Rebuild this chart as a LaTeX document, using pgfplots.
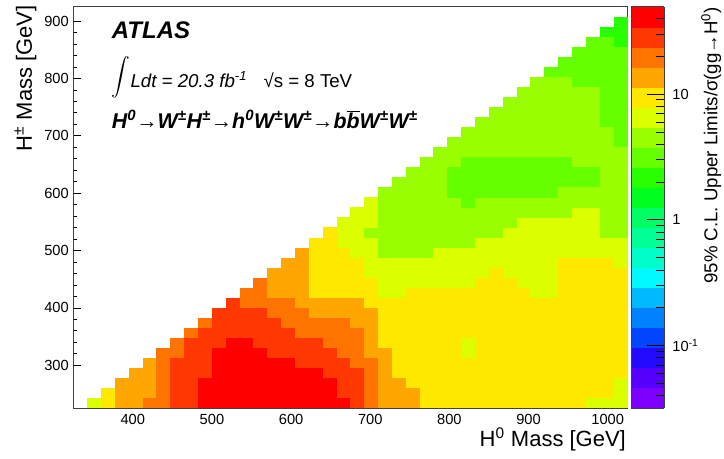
\documentclass[border=0pt]{standalone}
\usepackage{pgfplots}
\pgfplotsset{compat=1.18}
\usepackage{pgfplotstable}
\usepackage{graphicx}
\usepackage{fontspec}
\setmainfont{Liberation Sans}

\pgfdeclareplotmark{cell}{%
  \pgfpathrectangle{\pgfqpoint{-5.25pt}{-3.82pt}}{\pgfqpoint{10.5pt}{7.64pt}}%
  \pgfusepathqfill}

% i = H0 mass bin (17.5 GeV bins from 325), j = H+- mass bin (17.5 GeV bins from 225), v = limit / sigma
\pgfplotstableread[row sep=\\]{
i j v\\
1 0 6.5\\2 0 9.5\\3 0 14\\4 0 14\\5 0 20\\6 0 20\\7 0 28\\8 0 28\\9 0 41\\10 0 41\\11 0 41\\12 0 41\\13 0 41\\14 0 41\\15 0 41\\16 0 41\\17 0 41\\18 0 41\\19 0 41\\20 0 28\\21 0 20\\22 0 14\\23 0 14\\24 0 14\\25 0 9.5\\26 0 9.5\\27 0 9.5\\28 0 9.5\\29 0 9.5\\30 0 9.5\\31 0 9.5\\32 0 9.5\\33 0 9.5\\34 0 9.5\\35 0 9.5\\36 0 9.5\\37 0 6.5\\38 0 6.5\\39 0 6.5\\
2 1 9.5\\3 1 14\\4 1 14\\5 1 14\\6 1 20\\7 1 28\\8 1 28\\9 1 41\\10 1 41\\11 1 41\\12 1 41\\13 1 41\\14 1 41\\15 1 41\\16 1 41\\17 1 41\\18 1 41\\19 1 28\\20 1 28\\21 1 20\\22 1 14\\23 1 14\\24 1 14\\25 1 9.5\\26 1 9.5\\27 1 9.5\\28 1 9.5\\29 1 9.5\\30 1 9.5\\31 1 9.5\\32 1 9.5\\33 1 9.5\\34 1 9.5\\35 1 9.5\\36 1 9.5\\37 1 9.5\\38 1 9.5\\39 1 6.5\\
3 2 14\\4 2 14\\5 2 14\\6 2 20\\7 2 28\\8 2 28\\9 2 41\\10 2 41\\11 2 41\\12 2 41\\13 2 41\\14 2 41\\15 2 41\\16 2 41\\17 2 41\\18 2 41\\19 2 28\\20 2 28\\21 2 20\\22 2 14\\23 2 14\\24 2 9.5\\25 2 9.5\\26 2 9.5\\27 2 9.5\\28 2 9.5\\29 2 9.5\\30 2 9.5\\31 2 9.5\\32 2 9.5\\33 2 9.5\\34 2 9.5\\35 2 9.5\\36 2 9.5\\37 2 9.5\\38 2 9.5\\39 2 6.5\\
4 3 14\\5 3 14\\6 3 20\\7 3 28\\8 3 28\\9 3 28\\10 3 41\\11 3 41\\12 3 41\\13 3 41\\14 3 41\\15 3 41\\16 3 41\\17 3 41\\18 3 28\\19 3 28\\20 3 28\\21 3 20\\22 3 14\\23 3 9.5\\24 3 9.5\\25 3 9.5\\26 3 9.5\\27 3 9.5\\28 3 9.5\\29 3 9.5\\30 3 9.5\\31 3 9.5\\32 3 9.5\\33 3 9.5\\34 3 9.5\\35 3 9.5\\36 3 9.5\\37 3 9.5\\38 3 9.5\\39 3 9.5\\
5 4 14\\6 4 20\\7 4 28\\8 4 28\\9 4 28\\10 4 41\\11 4 41\\12 4 41\\13 4 41\\14 4 41\\15 4 41\\16 4 28\\17 4 28\\18 4 28\\19 4 28\\20 4 20\\21 4 20\\22 4 14\\23 4 9.5\\24 4 9.5\\25 4 9.5\\26 4 9.5\\27 4 9.5\\28 4 9.5\\29 4 9.5\\30 4 9.5\\31 4 9.5\\32 4 9.5\\33 4 9.5\\34 4 9.5\\35 4 9.5\\36 4 9.5\\37 4 9.5\\38 4 9.5\\39 4 9.5\\
6 5 20\\7 5 20\\8 5 28\\9 5 28\\10 5 41\\11 5 41\\12 5 41\\13 5 41\\14 5 28\\15 5 28\\16 5 28\\17 5 28\\18 5 28\\19 5 20\\20 5 20\\21 5 14\\22 5 14\\23 5 9.5\\24 5 9.5\\25 5 9.5\\26 5 9.5\\27 5 9.5\\28 5 6.5\\29 5 9.5\\30 5 9.5\\31 5 9.5\\32 5 9.5\\33 5 9.5\\34 5 9.5\\35 5 9.5\\36 5 9.5\\37 5 9.5\\38 5 9.5\\39 5 9.5\\
7 6 20\\8 6 28\\9 6 28\\10 6 28\\11 6 41\\12 6 41\\13 6 28\\14 6 28\\15 6 28\\16 6 28\\17 6 28\\18 6 20\\19 6 20\\20 6 20\\21 6 14\\22 6 9.5\\23 6 9.5\\24 6 9.5\\25 6 9.5\\26 6 9.5\\27 6 9.5\\28 6 6.5\\29 6 9.5\\30 6 9.5\\31 6 9.5\\32 6 9.5\\33 6 9.5\\34 6 9.5\\35 6 9.5\\36 6 9.5\\37 6 9.5\\38 6 9.5\\39 6 9.5\\
8 7 20\\9 7 28\\10 7 28\\11 7 28\\12 7 28\\13 7 28\\14 7 28\\15 7 28\\16 7 20\\17 7 20\\18 7 20\\19 7 20\\20 7 20\\21 7 14\\22 7 9.5\\23 7 9.5\\24 7 9.5\\25 7 9.5\\26 7 9.5\\27 7 9.5\\28 7 9.5\\29 7 9.5\\30 7 9.5\\31 7 9.5\\32 7 9.5\\33 7 9.5\\34 7 9.5\\35 7 9.5\\36 7 9.5\\37 7 9.5\\38 7 9.5\\39 7 9.5\\
9 8 20\\10 8 28\\11 8 28\\12 8 28\\13 8 28\\14 8 28\\15 8 20\\16 8 20\\17 8 20\\18 8 20\\19 8 20\\20 8 14\\21 8 14\\22 8 9.5\\23 8 9.5\\24 8 9.5\\25 8 9.5\\26 8 9.5\\27 8 9.5\\28 8 9.5\\29 8 9.5\\30 8 9.5\\31 8 9.5\\32 8 9.5\\33 8 9.5\\34 8 9.5\\35 8 9.5\\36 8 9.5\\37 8 9.5\\38 8 9.5\\39 8 9.5\\
10 9 28\\11 9 28\\12 9 28\\13 9 28\\14 9 20\\15 9 20\\16 9 20\\17 9 14\\18 9 14\\19 9 14\\20 9 14\\21 9 14\\22 9 9.5\\23 9 9.5\\24 9 9.5\\25 9 9.5\\26 9 9.5\\27 9 9.5\\28 9 9.5\\29 9 9.5\\30 9 9.5\\31 9 9.5\\32 9 9.5\\33 9 9.5\\34 9 9.5\\35 9 9.5\\36 9 9.5\\37 9 9.5\\38 9 9.5\\39 9 9.5\\
11 10 28\\12 10 20\\13 10 20\\14 10 20\\15 10 20\\16 10 14\\17 10 14\\18 10 14\\19 10 14\\20 10 14\\21 10 9.5\\22 10 9.5\\23 10 9.5\\24 10 9.5\\25 10 9.5\\26 10 9.5\\27 10 9.5\\28 10 9.5\\29 10 9.5\\30 10 9.5\\31 10 9.5\\32 10 9.5\\33 10 9.5\\34 10 9.5\\35 10 9.5\\36 10 9.5\\37 10 9.5\\38 10 9.5\\39 10 9.5\\
12 11 20\\13 11 20\\14 11 14\\15 11 14\\16 11 14\\17 11 9.5\\18 11 9.5\\19 11 9.5\\20 11 9.5\\21 11 9.5\\22 11 6.5\\23 11 6.5\\24 11 9.5\\25 11 9.5\\26 11 9.5\\27 11 9.5\\28 11 9.5\\29 11 9.5\\30 11 9.5\\31 11 9.5\\32 11 9.5\\33 11 6.5\\34 11 6.5\\35 11 9.5\\36 11 9.5\\37 11 9.5\\38 11 9.5\\39 11 9.5\\
13 12 20\\14 12 14\\15 12 14\\16 12 14\\17 12 9.5\\18 12 9.5\\19 12 9.5\\20 12 9.5\\21 12 9.5\\22 12 6.5\\23 12 6.5\\24 12 6.5\\25 12 6.5\\26 12 6.5\\27 12 6.5\\28 12 6.5\\29 12 9.5\\30 12 9.5\\31 12 9.5\\32 12 6.5\\33 12 6.5\\34 12 6.5\\35 12 9.5\\36 12 9.5\\37 12 9.5\\38 12 9.5\\39 12 9.5\\
14 13 14\\15 13 14\\16 13 14\\17 13 9.5\\18 13 9.5\\19 13 9.5\\20 13 9.5\\21 13 6.5\\22 13 6.5\\23 13 6.5\\24 13 6.5\\25 13 6.5\\26 13 6.5\\27 13 6.5\\28 13 6.5\\29 13 6.5\\30 13 9.5\\31 13 6.5\\32 13 6.5\\33 13 6.5\\34 13 6.5\\35 13 9.5\\36 13 9.5\\37 13 9.5\\38 13 9.5\\39 13 9.5\\
15 14 14\\16 14 14\\17 14 9.5\\18 14 9.5\\19 14 9.5\\20 14 9.5\\21 14 6.5\\22 14 6.5\\23 14 6.5\\24 14 6.5\\25 14 6.5\\26 14 6.5\\27 14 6.5\\28 14 6.5\\29 14 6.5\\30 14 6.5\\31 14 6.5\\32 14 6.5\\33 14 6.5\\34 14 6.5\\35 14 9.5\\36 14 9.5\\37 14 9.5\\38 14 9.5\\39 14 6.5\\
16 15 14\\17 15 9.5\\18 15 9.5\\19 15 9.5\\20 15 6.5\\21 15 6.5\\22 15 4.5\\23 15 4.5\\24 15 4.5\\25 15 4.5\\26 15 6.5\\27 15 6.5\\28 15 6.5\\29 15 6.5\\30 15 6.5\\31 15 6.5\\32 15 6.5\\33 15 6.5\\34 15 6.5\\35 15 6.5\\36 15 6.5\\37 15 6.5\\38 15 6.5\\39 15 6.5\\
17 16 9.5\\18 16 9.5\\19 16 6.5\\20 16 6.5\\21 16 6.5\\22 16 4.5\\23 16 4.5\\24 16 4.5\\25 16 4.5\\26 16 4.5\\27 16 4.5\\28 16 4.5\\29 16 6.5\\30 16 6.5\\31 16 6.5\\32 16 6.5\\33 16 6.5\\34 16 6.5\\35 16 6.5\\36 16 6.5\\37 16 6.5\\38 16 6.5\\39 16 6.5\\
18 17 9.5\\19 17 6.5\\20 17 6.5\\21 17 4.5\\22 17 4.5\\23 17 4.5\\24 17 4.5\\25 17 4.5\\26 17 4.5\\27 17 4.5\\28 17 4.5\\29 17 4.5\\30 17 4.5\\31 17 6.5\\32 17 6.5\\33 17 6.5\\34 17 6.5\\35 17 6.5\\36 17 6.5\\37 17 6.5\\38 17 4.5\\39 17 4.5\\
19 18 6.5\\20 18 6.5\\21 18 6.5\\22 18 4.5\\23 18 4.5\\24 18 4.5\\25 18 4.5\\26 18 4.5\\27 18 4.5\\28 18 4.5\\29 18 4.5\\30 18 4.5\\31 18 4.5\\32 18 6.5\\33 18 6.5\\34 18 6.5\\35 18 6.5\\36 18 6.5\\37 18 6.5\\38 18 4.5\\39 18 4.5\\
20 19 6.5\\21 19 6.5\\22 19 4.5\\23 19 4.5\\24 19 4.5\\25 19 4.5\\26 19 4.5\\27 19 4.5\\28 19 4.5\\29 19 4.5\\30 19 4.5\\31 19 4.5\\32 19 4.5\\33 19 4.5\\34 19 4.5\\35 19 4.5\\36 19 6.5\\37 19 6.5\\38 19 4.5\\39 19 4.5\\
21 20 6.5\\22 20 4.5\\23 20 4.5\\24 20 4.5\\25 20 4.5\\26 20 4.5\\27 20 4.5\\28 20 3.1\\29 20 4.5\\30 20 4.5\\31 20 4.5\\32 20 4.5\\33 20 4.5\\34 20 4.5\\35 20 4.5\\36 20 4.5\\37 20 4.5\\38 20 4.5\\39 20 4.5\\
22 21 4.5\\23 21 4.5\\24 21 4.5\\25 21 4.5\\26 21 4.5\\27 21 3.1\\28 21 3.1\\29 21 3.1\\30 21 3.1\\31 21 3.1\\32 21 3.1\\33 21 3.1\\34 21 3.1\\35 21 4.5\\36 21 4.5\\37 21 4.5\\38 21 4.5\\39 21 4.5\\
23 22 4.5\\24 22 4.5\\25 22 4.5\\26 22 4.5\\27 22 3.1\\28 22 3.1\\29 22 3.1\\30 22 3.1\\31 22 3.1\\32 22 3.1\\33 22 3.1\\34 22 3.1\\35 22 3.1\\36 22 3.1\\37 22 3.1\\38 22 4.5\\39 22 4.5\\
24 23 4.5\\25 23 4.5\\26 23 4.5\\27 23 3.1\\28 23 3.1\\29 23 3.1\\30 23 3.1\\31 23 3.1\\32 23 3.1\\33 23 3.1\\34 23 3.1\\35 23 3.1\\36 23 3.1\\37 23 3.1\\38 23 4.5\\39 23 4.5\\
25 24 4.5\\26 24 4.5\\27 24 4.5\\28 24 3.1\\29 24 3.1\\30 24 3.1\\31 24 3.1\\32 24 3.1\\33 24 3.1\\34 24 3.1\\35 24 3.1\\36 24 4.5\\37 24 4.5\\38 24 4.5\\39 24 4.5\\
26 25 4.5\\27 25 4.5\\28 25 4.5\\29 25 4.5\\30 25 4.5\\31 25 4.5\\32 25 4.5\\33 25 4.5\\34 25 4.5\\35 25 4.5\\36 25 4.5\\37 25 4.5\\38 25 4.5\\39 25 4.5\\
27 26 4.5\\28 26 4.5\\29 26 4.5\\30 26 4.5\\31 26 4.5\\32 26 4.5\\33 26 4.5\\34 26 4.5\\35 26 4.5\\36 26 4.5\\37 26 4.5\\38 26 4.5\\39 26 3.1\\
28 27 4.5\\29 27 4.5\\30 27 4.5\\31 27 4.5\\32 27 4.5\\33 27 4.5\\34 27 4.5\\35 27 4.5\\36 27 4.5\\37 27 4.5\\38 27 4.5\\39 27 3.1\\
29 28 4.5\\30 28 4.5\\31 28 4.5\\32 28 4.5\\33 28 4.5\\34 28 4.5\\35 28 4.5\\36 28 4.5\\37 28 4.5\\38 28 3.1\\39 28 3.1\\
30 29 4.5\\31 29 4.5\\32 29 4.5\\33 29 4.5\\34 29 4.5\\35 29 4.5\\36 29 4.5\\37 29 4.5\\38 29 3.1\\39 29 3.1\\
31 30 4.5\\32 30 4.5\\33 30 4.5\\34 30 4.5\\35 30 4.5\\36 30 4.5\\37 30 4.5\\38 30 3.1\\39 30 3.1\\
32 31 4.5\\33 31 4.5\\34 31 4.5\\35 31 4.5\\36 31 4.5\\37 31 4.5\\38 31 3.1\\39 31 3.1\\
33 32 4.5\\34 32 4.5\\35 32 4.5\\36 32 3.1\\37 32 3.1\\38 32 3.1\\39 32 3.1\\
34 33 3.1\\35 33 3.1\\36 33 3.1\\37 33 3.1\\38 33 3.1\\39 33 3.1\\
35 34 3.1\\36 34 3.1\\37 34 3.1\\38 34 3.1\\39 34 3.1\\
36 35 3.1\\37 35 3.1\\38 35 3.1\\39 35 3.1\\
37 36 3.1\\38 36 3.1\\39 36 2.2\\
38 37 2.2\\39 37 2.2\\
39 38 2.2\\
}\cells

\begin{document}
\begin{tikzpicture}
\useasboundingbox (-55.1pt,-37.3pt) rectangle (487.9pt,306.2pt);
\begin{axis}[
  at={(0,0)}, anchor=south west,
  scale only axis, width=415.5pt, height=301.2pt,
  xmin=325, xmax=1025, ymin=225, ymax=925,
  enlargelimits=false,
  xtick={400,500,...,1000}, ytick={300,400,...,900},
  minor x tick num=4, minor y tick num=4,
  xtick pos=left, ytick pos=left,
  tick align=inside,
  major tick length=6pt, minor tick length=3pt,
  tick style={black, line width=0.5pt},
  axis line style={line width=0.5pt, black!75},
  axis on top,
  /pgf/number format/assume math mode=true,
  /pgf/number format/1000 sep={},
  tick label style={font=\fontsize{11}{13}\selectfont},
  xticklabel style={yshift=-1pt},
  xlabel={H\textsuperscript{0} Mass [GeV]},
  ylabel={H\textsuperscript{±} Mass [GeV]},
  label style={font=\fontsize{16.5}{18}\selectfont, inner sep=0pt},
  xlabel style={at={([xshift=-1pt,yshift=-28.8pt]rel axis cs:1,0)}, anchor=base east},
  ylabel style={at={([xshift=-31.1pt,yshift=1.3pt]rel axis cs:0,1)}, anchor=base east},
  colormap={rootpal}{rgb255=(125,0,255) rgb255=(85,0,255) rgb255=(35,10,255) rgb255=(0,70,255) rgb255=(0,130,255) rgb255=(0,185,255) rgb255=(0,250,255) rgb255=(0,255,200) rgb255=(0,255,150) rgb255=(0,255,100) rgb255=(0,255,30) rgb255=(40,255,0) rgb255=(102,255,0) rgb255=(153,255,0) rgb255=(220,255,0) rgb255=(255,232,0) rgb255=(255,166,0) rgb255=(255,115,0) rgb255=(255,55,0) rgb255=(255,0,0)},
  colormap access=piecewise constant,
  point meta min=-1.498, point meta max=1.694,
  colorbar shift/.style={xshift=2.6pt},
  colorbar,
  colorbar style={
    at={(parent axis.north east)}, anchor=north west,
    scale only axis, width=25pt, height=301.2pt,
    ytick={-1,0,1},
    yticklabels={10\textsuperscript{-1},1,10},
    minor ytick={-1.3979,-1.3010,-1.2218,-1.1549,-1.0969,-1.0458,-0.6990,-0.5229,-0.3979,-0.3010,-0.2218,-0.1549,-0.0969,-0.0458,0.3010,0.4771,0.6021,0.6990,0.7782,0.8451,0.9031,0.9542,1.3010,1.4771,1.6021},
    ytick pos=right, yticklabel pos=right,
    tick align=inside,
    major tick length=13pt, minor tick length=6pt,
    tick style={black, line width=0.5pt},
    axis line style={line width=0.5pt, black!75},
    yticklabel style={font=\fontsize{11}{13}\selectfont, xshift=2.6pt},
    ylabel={95\% C.L. Upper Limits/σ(gg→H\textsuperscript{0})},
    ylabel style={at={([xshift=27.5pt]rel axis cs:1,1)}, anchor=north east, inner sep=0pt, font=\fontsize{14}{16}\selectfont},
  },
]
\addplot[scatter, only marks, mark=cell,
  point meta={log10(\thisrow{v})},
  scatter/use mapped color={draw=none, fill=mapped color}]
  table[x expr={333.75+17.5*\thisrow{i}}, y expr={233.75+17.5*\thisrow{j}}] {\cells};
\end{axis}
\node[anchor=base west, inner sep=0pt, font=\fontsize{18}{20}\selectfont\bfseries\itshape] at (28.65pt,277.5pt) {ATLAS};
\node[anchor=base west, inner sep=0pt, font=\fontsize{14}{16}\selectfont\itshape] at (28.65pt,240.5pt) {\raisebox{2.8pt}{\scalebox{1.4}{$\displaystyle\int$}}Ldt = 20.3 fb\textsuperscript{-1}};
\node[anchor=base west, inner sep=0pt, font=\fontsize{14}{16}\selectfont] at (142.4pt,240.5pt) {√s = 8 TeV};
\node[anchor=base west, inner sep=0pt, font=\fontsize{16}{18}\selectfont\bfseries\itshape] at (28.65pt,209.5pt) {H\textsuperscript{0}→W\textsuperscript{±}H\textsuperscript{±}→h\textsuperscript{0}W\textsuperscript{±}W\textsuperscript{±}→b$\overline{\mbox{b}}$W\textsuperscript{±}W\textsuperscript{±}};
\end{tikzpicture}
\end{document}
